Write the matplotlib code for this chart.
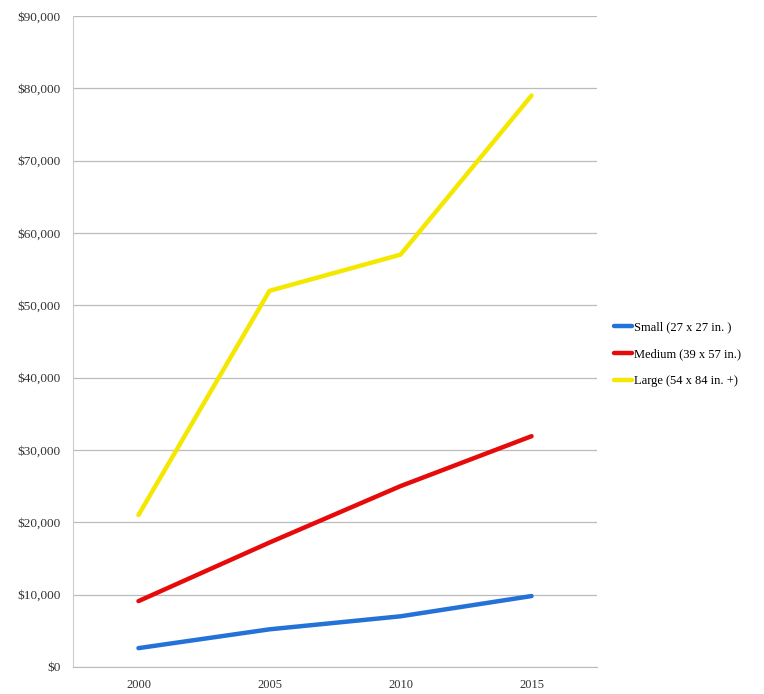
import matplotlib
matplotlib.use('Agg')
import numpy as np
from matplotlib import pyplot as plt
from matplotlib.ticker import FuncFormatter

years = ['2000', '2005', '2010', '2015']
small = [2600, 5200, 7000, 9800]
medium = [9100, 17200, 25000, 31900]
large = [21000, 52000, 57000, 79000]
labels = ['Small (27 x 27 in. )', 'Medium (39 x 57 in.)', 'Large (54 x 84 in. +)']
colors = ['#2272d8', '#e60a0a', '#f4e800']

plt.rcParams['font.family'] = ['Liberation Serif', 'DejaVu Serif']

fig = plt.figure(figsize=(7.64, 6.94), dpi=100)
ax = fig.add_axes([0.0955, 0.039, 0.686, 0.938])

x = np.arange(len(years))
for series, lab, col in zip([small, medium, large], labels, colors):
    ax.plot(x, series, color=col, linewidth=3.2, solid_capstyle='round', label=lab)

ax.set_xlim(-0.5, len(years) - 0.5)
ax.set_ylim(0, 90000)
ax.set_xticks(x)
ax.set_xticklabels(years)
ax.set_yticks(np.arange(0, 90001, 10000))
ax.yaxis.set_major_formatter(FuncFormatter(lambda v, p: f'${v:,.0f}'))
ax.tick_params(length=0, labelsize=9.5, colors='#333333')
ax.tick_params(axis='y', pad=9)
ax.tick_params(axis='x', pad=9, labelsize=9)
ax.grid(axis='y', color='#bbbbbb', linewidth=0.9)
ax.set_axisbelow(True)
for s in ['top', 'right']:
    ax.spines[s].set_visible(False)
ax.spines['left'].set_color('#cccccc')
ax.spines['bottom'].set_color('#bbbbbb')

ax.legend(loc='center left', bbox_to_anchor=(1.01, 0.48), frameon=False,
          fontsize=9, handlelength=1.5, handletextpad=0.15, labelspacing=1.2)

fig.savefig('out.png', dpi=100)
